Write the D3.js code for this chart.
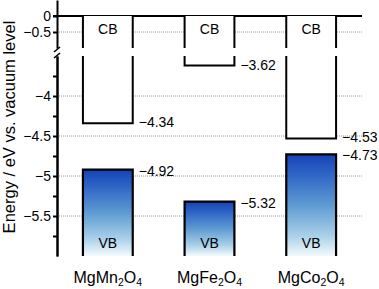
<!DOCTYPE html>
<html><head><meta charset="utf-8">
<script src="https://cdn.jsdelivr.net/npm/d3@7"></script>
<style>
body{margin:0;background:#fff;}
svg{display:block;font-family:"Liberation Sans",Arial,Helvetica,sans-serif;}
</style></head>
<body>
<svg id="c" width="379" height="289"></svg>
<script>
const categories = ["MgMn2O4", "MgFe2O4", "MgCo2O4"];
const cbValues = [-4.34, -3.62, -4.53];
const vbValues = [-4.92, -5.32, -4.73];
const upperTicks = [0, -0.5];
const lowerMajorTicks = [-4, -4.5, -5, -5.5];
const lowerMinorTicks = [-3.75, -4.25, -4.75, -5.25, -5.75];
const gridValues = [-0.5, -4, -4.5, -5, -5.5];

const svg = d3.select("#c");
const left = 57, right = 362;
const yTop = d3.scaleLinear().domain([0.5, -1]).range([0, 48]);
const yBot = d3.scaleLinear().domain([-3.5, -6]).range([56, 256]);
const y = v => v > -2 ? yTop(v) : yBot(v);
const x = d3.scaleBand().domain(categories).range([left, right]).paddingInner(0.51).paddingOuter(0.255);
const fmt = d3.format("");

// gradient
const defs = svg.append("defs");
const grad = defs.append("linearGradient").attr("id", "vbg").attr("x1", 0).attr("y1", 0).attr("x2", 0).attr("y2", 1);
[[0, "#1443b5"], [0.2, "#2f66c6"], [0.5, "#5e9bd2"], [0.8, "#a9d0e8"], [1, "#f3fafd"]].forEach(s =>
  grad.append("stop").attr("offset", s[0]).attr("stop-color", s[1]));

// grid lines
svg.append("g").selectAll("line").data(gridValues).join("line")
  .attr("x1", left).attr("x2", right).attr("y1", d => y(d)).attr("y2", d => y(d))
  .attr("stroke", "#9a9a9a").attr("stroke-width", 1).attr("stroke-dasharray", "1,1");

// axes
const axU = d3.axisLeft(yTop).tickValues(upperTicks).tickFormat(fmt).tickSize(4).tickSizeOuter(0).tickPadding(2);
const axL = d3.axisLeft(yBot).tickValues(lowerMajorTicks).tickFormat(fmt).tickSize(4).tickSizeOuter(0).tickPadding(2);
const axM = d3.axisLeft(yBot).tickValues(lowerMinorTicks).tickFormat("").tickSize(4).tickSizeOuter(0);
[axU, axL, axM].forEach(a => {
  const g = svg.append("g").attr("transform", `translate(${left},0)`).call(a);
  g.selectAll("path").attr("stroke", "#000").attr("stroke-width", 2);
  g.selectAll("line").attr("stroke", "#000").attr("stroke-width", 2);
  g.selectAll("text").attr("font-size", 14).attr("fill", "#000").attr("font-family", "Liberation Sans, Arial, sans-serif");
});
// break marks
const br = svg.append("g").attr("stroke", "#000").attr("stroke-width", 1.6);
br.append("line").attr("x1", left - 3).attr("y1", 52).attr("x2", left + 3).attr("y2", 47);
br.append("line").attr("x1", left - 3).attr("y1", 58).attr("x2", left + 3).attr("y2", 53);

// top zero line
svg.append("line").attr("x1", left - 4).attr("x2", right).attr("y1", y(0)).attr("y2", y(0))
  .attr("stroke", "#000").attr("stroke-width", 2);

// CB boxes
const bw = x.bandwidth();
categories.forEach((c, i) => {
  const x0 = x(c), x1 = x0 + bw, yb = y(cbValues[i]);
  svg.append("rect").attr("x", x0).attr("y", y(0)).attr("width", bw).attr("height", yb - y(0)).attr("fill", "#fff");
  const p = d3.path();
  p.moveTo(x0, y(0)); p.lineTo(x0, 48);
  p.moveTo(x1, y(0)); p.lineTo(x1, 48);
  p.moveTo(x0, 56); p.lineTo(x0, yb); p.lineTo(x1, yb); p.lineTo(x1, 56);
  svg.append("path").attr("d", p.toString()).attr("fill", "none").attr("stroke", "#000").attr("stroke-width", 2);
  svg.append("text").attr("x", x0 + bw / 2).attr("y", 29).attr("dy", "0.35em").attr("text-anchor", "middle")
    .attr("font-size", 14).text("CB");
  svg.append("text").attr("x", x1 + 6).attr("y", yb - 1).attr("dy", "0.35em").attr("font-size", 14).text(fmt(cbValues[i]));

  // VB
  const yv = y(vbValues[i]), yB = y(-6);
  svg.append("rect").attr("x", x0).attr("y", yv).attr("width", bw).attr("height", yB - yv).attr("fill", "url(#vbg)");
  const q = d3.path();
  q.moveTo(x0, yB); q.lineTo(x0, yv); q.lineTo(x1, yv); q.lineTo(x1, yB);
  svg.append("path").attr("d", q.toString()).attr("fill", "none").attr("stroke", "#000").attr("stroke-width", 2.2);
  svg.append("text").attr("x", x0 + bw / 2).attr("y", 243).attr("dy", "0.35em").attr("text-anchor", "middle")
    .attr("font-size", 14).text("VB");
  svg.append("text").attr("x", x1 + 6).attr("y", yv + 1).attr("dy", "0.35em").attr("font-size", 14).text(fmt(vbValues[i]));

  // category label with subscripts
  const t = svg.append("text").attr("x", x0 + bw / 2).attr("y", 283).attr("text-anchor", "middle").attr("font-size", 16);
  const parts = c.match(/[A-Za-z]+|\d+/g);
  let prevSub = false;
  parts.forEach(s => {
    if (/\d/.test(s)) {
      t.append("tspan").attr("font-size", 10.5).attr("dy", 3).text(s);
      prevSub = true;
    } else {
      const ts = t.append("tspan").text(s);
      if (prevSub) ts.attr("dy", -3);
      prevSub = false;
    }
  });
});

// y axis title
svg.append("text").attr("transform", "translate(15,127) rotate(-90)").attr("text-anchor", "middle")
  .attr("font-size", 16.5).text("Energy / eV vs. vacuum level");
</script>
</body></html>
